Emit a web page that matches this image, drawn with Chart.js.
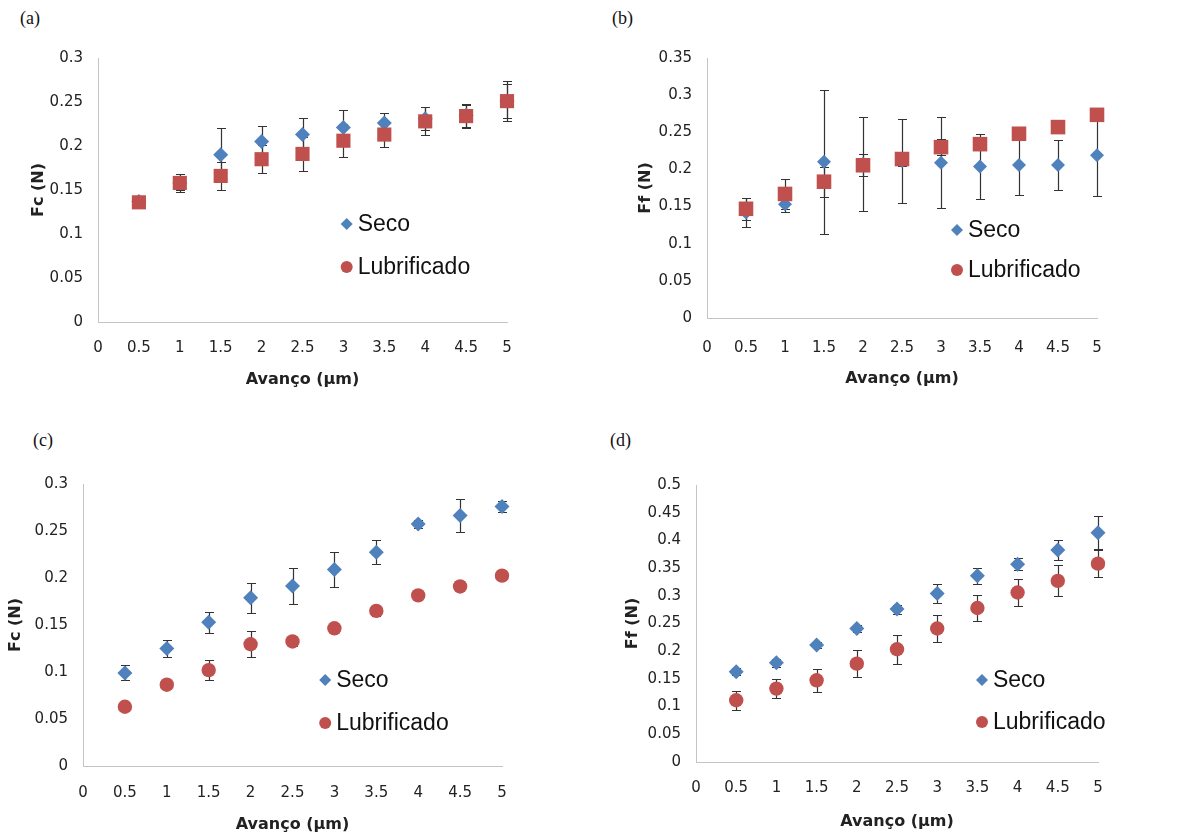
<!DOCTYPE html>
<html><head><meta charset="utf-8">
<script src="https://cdn.jsdelivr.net/npm/chart.js@4.4.1/dist/chart.umd.min.js"></script>
<style>
html,body{margin:0;padding:0;background:#fff;width:1189px;height:839px;overflow:hidden;}
canvas{position:absolute;}
.lbl{position:absolute;font-family:"Liberation Serif","DejaVu Serif",serif;font-size:18px;line-height:18px;color:#111;}
</style></head><body>
<div class="lbl" style="left:20px;top:9px">(a)</div>
<div class="lbl" style="left:612px;top:9px">(b)</div>
<div class="lbl" style="left:33px;top:431px">(c)</div>
<div class="lbl" style="left:610px;top:431px">(d)</div>
<canvas id="ca" width="530" height="360" style="left:0;top:40px"></canvas>
<canvas id="cb" width="530" height="360" style="left:595px;top:40px"></canvas>
<canvas id="cc" width="530" height="379" style="left:0;top:460px"></canvas>
<canvas id="cd" width="530" height="379" style="left:595px;top:460px"></canvas>
<script>
// ---------- data ----------
const avanco = [0.5, 1, 1.5, 2, 2.5, 3, 3.5, 4, 4.5, 5];
const xTickValues = [0, 0.5, 1, 1.5, 2, 2.5, 3, 3.5, 4, 4.5, 5];
const seriesNames = ["Seco", "Lubrificado"];
const xTitle = "Avanço (µm)";

// (a) Fc
const aSeco     = [0.137, 0.158, 0.190, 0.205, 0.213, 0.221, 0.226, 0.231, 0.235, 0.251];
const aSecoErr  = [0.005, 0.008, 0.031, 0.018, 0.019, 0.020, 0.012, 0.013, 0.013, 0.023];
const aLub      = [0.136, 0.158, 0.166, 0.185, 0.191, 0.206, 0.213, 0.228, 0.234, 0.251];
const aLubErr   = [0.005, 0.010, 0.016, 0.016, 0.019, 0.019, 0.014, 0.016, 0.013, 0.019];
const aYTicks   = [0, 0.05, 0.1, 0.15, 0.2, 0.25, 0.3];

// (b) Ff
const bSeco     = [0.142, 0.153, 0.2105, 0.2075, 0.2115, 0.209, 0.204, 0.206, 0.206, 0.219];
const bSecoErr  = [0.020, 0.010, 0.097, 0.063, 0.057, 0.061, 0.044, 0.041, 0.034, 0.055];
const bLub      = [0.147, 0.167, 0.1835, 0.2056, 0.214, 0.230, 0.234, 0.248, 0.257, 0.2735];
const bLubErr   = [0.015, 0.020, 0.020, 0.015, 0.010, 0.011, 0.008, 0.008, 0.008, 0.008];
const bYTicks   = [0, 0.05, 0.1, 0.15, 0.2, 0.25, 0.3, 0.35];

// (c) Fc
const cSeco     = [0.099, 0.125, 0.153, 0.179, 0.1915, 0.209, 0.2275, 0.2575, 0.2665, 0.276];
const cSecoErr  = [0.008, 0.009, 0.011, 0.016, 0.019, 0.019, 0.013, 0.004, 0.018, 0.006];
const cLub      = [0.063, 0.0865, 0.102, 0.1295, 0.1325, 0.1465, 0.165, 0.1815, 0.191, 0.2025];
const cLubErr   = [0.004, 0.004, 0.011, 0.014, 0.005, 0.005, 0.005, 0.004, 0.004, 0.004];
const cYTicks   = [0, 0.05, 0.1, 0.15, 0.2, 0.25, 0.3];

// (d) Ff
const dSeco     = [0.163, 0.179, 0.211, 0.241, 0.276, 0.304, 0.336, 0.357, 0.3825, 0.414];
const dSecoErr  = [0.006, 0.007, 0.006, 0.006, 0.008, 0.017, 0.015, 0.011, 0.018, 0.030];
const dLub      = [0.1115, 0.1325, 0.1475, 0.1775, 0.2035, 0.241, 0.278, 0.306, 0.327, 0.358];
const dLubErr   = [0.017, 0.017, 0.021, 0.024, 0.026, 0.024, 0.023, 0.024, 0.028, 0.024];
const dYTicks   = [0, 0.05, 0.1, 0.15, 0.2, 0.25, 0.3, 0.35, 0.4, 0.45, 0.5];

// ---------- styling ----------
const BLUE = '#4F81BD', RED = '#C0504D';
Chart.defaults.font.family = '"DejaVu Sans", "Liberation Sans", Arial, sans-serif';
Chart.defaults.color = '#222';

const errorBars = {
  id: 'errorBars',
  beforeDatasetsDraw(chart) {
    const ctx = chart.ctx, xs = chart.scales.x, ys = chart.scales.y;
    ctx.save();
    ctx.strokeStyle = '#333';
    ctx.lineWidth = 1.2;
    chart.data.datasets.forEach(ds => {
      if (!ds.errors) return;
      ds.data.forEach((p, j) => {
        const e = ds.errors[j];
        const x = Math.round(xs.getPixelForValue(p.x)) + 0.5;
        const y1 = Math.round(ys.getPixelForValue(p.y + e)) + 0.5;
        const y2 = Math.round(ys.getPixelForValue(p.y - e)) + 0.5;
        ctx.beginPath();
        ctx.moveTo(x, y1); ctx.lineTo(x, y2);
        ctx.moveTo(x - 4.5, y1); ctx.lineTo(x + 4.5, y1);
        ctx.moveTo(x - 4.5, y2); ctx.lineTo(x + 4.5, y2);
        ctx.stroke();
      });
    });
    ctx.restore();
  }
};

const insideLegend = {
  id: 'insideLegend',
  afterDraw(chart, args, opts) {
    if (!opts || !opts.items) return;
    const ctx = chart.ctx, xs = chart.scales.x, ys = chart.scales.y;
    const x = xs.getPixelForValue(opts.x);
    opts.items.forEach(it => {
      const y = ys.getPixelForValue(it.y);
      ctx.save();
      ctx.fillStyle = it.color;
      ctx.beginPath();
      if (it.shape === 'diamond') {
        ctx.moveTo(x, y - 6); ctx.lineTo(x + 6, y); ctx.lineTo(x, y + 6); ctx.lineTo(x - 6, y); ctx.closePath();
      } else {
        ctx.arc(x, y, 6, 0, Math.PI * 2);
      }
      ctx.fill();
      ctx.fillStyle = '#111';
      ctx.font = '23px "Liberation Sans", Arial, sans-serif';
      ctx.textBaseline = 'middle';
      ctx.textAlign = 'left';
      ctx.fillText(it.text, x + 11, y + 1);
      ctx.restore();
    });
  }
};

const toPts = vals => avanco.map((x, i) => ({ x: x, y: vals[i] }));
const fmt = v => String(Number(v.toFixed(2)));

function makePanel(id, p) {
  new Chart(document.getElementById(id), {
    type: 'scatter',
    data: {
      datasets: [
        { label: seriesNames[0], data: toPts(p.seco), errors: p.secoErr, clip: false, order: 2,
          pointStyle: 'rectRot', pointRadius: p.rSeco, backgroundColor: BLUE, borderColor: BLUE, borderWidth: 0 },
        { label: seriesNames[1], data: toPts(p.lub), errors: p.lubErr, clip: false, order: 1,
          pointStyle: p.lubStyle, pointRadius: p.rLub, backgroundColor: RED, borderColor: RED, borderWidth: 0 }
      ]
    },
    options: {
      responsive: false, animation: false, events: [],
      layout: { padding: { left: 0, top: p.padTop, right: p.padRight, bottom: 0 } },
      plugins: {
        legend: { display: false }, tooltip: { enabled: false },
        insideLegend: {
          x: p.legX,
          items: [
            { text: seriesNames[0], y: p.legY1, color: BLUE, shape: 'diamond' },
            { text: seriesNames[1], y: p.legY2, color: RED, shape: 'circle' }
          ]
        }
      },
      scales: {
        x: {
          type: 'linear', min: 0, max: 5,
          afterBuildTicks: s => { s.ticks = xTickValues.map(v => ({ value: v })); },
          afterFit: s => { s.height = p.xH; },
          ticks: { padding: 0, font: { size: 15 }, callback: v => fmt(v), maxRotation: 0, autoSkip: false },
          grid: { drawOnChartArea: false, drawTicks: true, tickLength: p.xTickPad, tickColor: 'rgba(0,0,0,0)' },
          border: { color: '#c4c4c4', width: 1 },
          title: { display: true, text: xTitle, font: { size: 16, weight: 'bold' }, color: '#222',
                   padding: { top: 0, bottom: p.xTitlePad } }
        },
        y: {
          type: 'linear', min: 0, max: p.yTicks[p.yTicks.length - 1],
          afterBuildTicks: s => { s.ticks = p.yTicks.map(v => ({ value: v })); },
          afterFit: s => { s.width = p.yW; },
          ticks: { padding: 0, font: { size: 15 }, callback: v => fmt(v), autoSkip: false },
          grid: { drawOnChartArea: false, drawTicks: true, tickLength: 15, tickColor: 'rgba(0,0,0,0)' },
          border: { color: '#c4c4c4', width: 1 },
          title: { display: true, text: p.yTitle, font: { size: 16, weight: 'bold' }, color: '#222',
                   padding: { top: p.yTitlePad, bottom: 0 } }
        }
      }
    },
    plugins: [errorBars, insideLegend]
  });
}

makePanel('ca', { seco: aSeco, secoErr: aSecoErr, lub: aLub, lubErr: aLubErr, yTicks: aYTicks, yTitle: 'Fc (N)',
  lubStyle: 'rect', rSeco: 7.5, rLub: 10,
  padTop: 18, padRight: 23, yW: 98, xH: 78, xTickPad: 17, xTitlePad: 11, yTitlePad: 29,
  legX: 3.04, legY1: 0.1115, legY2: 0.0625 });

makePanel('cb', { seco: bSeco, secoErr: bSecoErr, lub: bLub, lubErr: bLubErr, yTicks: bYTicks, yTitle: 'Ff (N)',
  lubStyle: 'rect', rSeco: 7, rLub: 10.3,
  padTop: 18, padRight: 28, yW: 112, xH: 82, xTickPad: 21, xTitlePad: 12, yTitlePad: 41,
  legX: 3.205, legY1: 0.1185, legY2: 0.0646 });

makePanel('cc', { seco: cSeco, secoErr: cSecoErr, lub: cLub, lubErr: cLubErr, yTicks: cYTicks, yTitle: 'Fc (N)',
  lubStyle: 'circle', rSeco: 7.5, rLub: 7.2,
  padTop: 24, padRight: 28, yW: 83, xH: 73, xTickPad: 18, xTitlePad: 5, yTitlePad: 6,
  legX: 2.89, legY1: 0.0915, legY2: 0.0457 });

makePanel('cd', { seco: dSeco, secoErr: dSecoErr, lub: dLub, lubErr: dLubErr, yTicks: dYTicks, yTitle: 'Ff (N)',
  lubStyle: 'circle', rSeco: 7.5, rLub: 7.2,
  padTop: 25, padRight: 27, yW: 101, xH: 77, xTickPad: 17, xTitlePad: 8, yTitlePad: 28,
  legX: 3.557, legY1: 0.148, legY2: 0.0722 });
</script>
</body></html>
